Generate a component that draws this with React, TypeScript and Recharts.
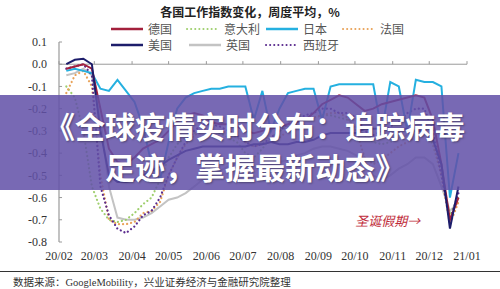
import React from 'react';
import { LineChart, Line, XAxis, YAxis, ReferenceLine, ReferenceDot } from 'recharts';

// Days since 2020-02-01 (weekly averages)
const days = [6, 13, 20, 27, 34, 41, 48, 55, 62, 69, 76, 83, 90, 97, 104, 111, 118, 125, 132, 139, 146, 153, 160, 167, 174, 181, 188, 195, 202, 209, 216, 223, 230, 237, 244, 251, 258, 265, 272, 279, 286, 293, 300, 307, 314, 321, 328];

const germany = [-0.02, -0.01, 0.0, -0.02, -0.2, -0.38, -0.44, -0.45, -0.42, -0.38, -0.36, -0.34, -0.3, -0.26, -0.23, -0.22, -0.23, -0.26, -0.27, -0.27, -0.28, -0.3, -0.31, -0.3, -0.29, -0.28, -0.27, -0.26, -0.25, -0.22, -0.18, -0.16, -0.14, -0.15, -0.18, -0.21, -0.2, -0.18, -0.17, -0.16, -0.15, -0.14, -0.15, -0.25, -0.45, -0.7, -0.6];
const italy = [-0.1, -0.15, -0.3, -0.55, -0.65, -0.7, -0.71, -0.7, -0.67, -0.63, -0.6, -0.52, -0.42, -0.36, -0.33, -0.31, -0.3, -0.3, -0.31, -0.33, -0.35, -0.4, -0.42, -0.38, -0.33, -0.3, -0.28, -0.27, -0.25, -0.24, -0.23, -0.23, -0.24, -0.25, -0.28, -0.32, -0.35, -0.36, -0.35, -0.33, -0.32, -0.3, -0.3, -0.36, -0.5, -0.68, -0.6];
const japan = [-0.03, -0.02, -0.03, -0.04, -0.11, -0.12, -0.07, -0.12, -0.17, -0.28, -0.45, -0.52, -0.35, -0.2, -0.15, -0.13, -0.12, -0.11, -0.11, -0.1, -0.1, -0.1, -0.25, -0.12, -0.3, -0.2, -0.13, -0.12, -0.11, -0.11, -0.25, -0.1, -0.09, -0.09, -0.09, -0.09, -0.09, -0.3, -0.08, -0.1, -0.3, -0.07, -0.08, -0.08, -0.1, -0.6, -0.4];
const france = [-0.13, -0.05, -0.03, -0.1, -0.5, -0.7, -0.72, -0.72, -0.71, -0.67, -0.66, -0.62, -0.5, -0.42, -0.36, -0.32, -0.3, -0.3, -0.3, -0.31, -0.33, -0.35, -0.37, -0.36, -0.35, -0.33, -0.3, -0.27, -0.25, -0.24, -0.23, -0.22, -0.22, -0.24, -0.3, -0.42, -0.45, -0.43, -0.4, -0.37, -0.35, -0.33, -0.3, -0.35, -0.5, -0.72, -0.62];
const usa = [0.0, 0.02, 0.025, 0.0, -0.3, -0.5, -0.53, -0.53, -0.52, -0.5, -0.48, -0.46, -0.43, -0.41, -0.39, -0.38, -0.37, -0.37, -0.37, -0.37, -0.37, -0.37, -0.36, -0.36, -0.35, -0.36, -0.36, -0.35, -0.35, -0.34, -0.32, -0.31, -0.31, -0.31, -0.31, -0.29, -0.29, -0.29, -0.29, -0.29, -0.29, -0.3, -0.3, -0.34, -0.45, -0.74, -0.55];
const uk = [-0.05, -0.04, -0.02, -0.05, -0.25, -0.55, -0.69, -0.7, -0.7, -0.69, -0.67, -0.64, -0.61, -0.6, -0.58, -0.55, -0.52, -0.5, -0.48, -0.46, -0.45, -0.45, -0.47, -0.46, -0.45, -0.44, -0.43, -0.41, -0.4, -0.38, -0.37, -0.37, -0.38, -0.39, -0.41, -0.44, -0.5, -0.52, -0.5, -0.47, -0.45, -0.42, -0.42, -0.45, -0.55, -0.66, -0.62];
const spain = [-0.02, -0.01, 0.0, -0.05, -0.55, -0.68, -0.74, -0.76, -0.73, -0.68, -0.66, -0.6, -0.5, -0.42, -0.35, -0.3, -0.27, -0.27, -0.28, -0.3, -0.32, -0.35, -0.37, -0.36, -0.33, -0.3, -0.27, -0.25, -0.23, -0.22, -0.2, -0.2, -0.22, -0.22, -0.24, -0.3, -0.32, -0.3, -0.28, -0.26, -0.22, -0.2, -0.2, -0.3, -0.5, -0.7, -0.58];

const monthDays = [0, 29, 60, 90, 121, 151, 182, 213, 243, 274, 304, 335];
const monthLabels = ['20/02', '20/03', '20/04', '20/05', '20/06', '20/07', '20/08', '20/09', '20/10', '20/11', '20/12', '21/01'];
const yTicks = [0.1, 0, -0.1, -0.2, -0.3, -0.4, -0.5, -0.6, -0.7, -0.8];

const series = [
  { key: 'de', name: '德国', values: germany, color: '#a3203c', dotted: false },
  { key: 'it', name: '意大利', values: italy, color: '#9fcf6e', dotted: true },
  { key: 'jp', name: '日本', values: japan, color: '#25b0e0', dotted: false },
  { key: 'fr', name: '法国', values: france, color: '#e9a35a', dotted: true },
  { key: 'us', name: '美国', values: usa, color: '#1d1d6b', dotted: false },
  { key: 'uk', name: '英国', values: uk, color: '#c3c3c3', dotted: false },
  { key: 'es', name: '西班牙', values: spain, color: '#5a2b8e', dotted: true },
];

// draw order (back to front)
const drawOrder = ['uk', 'it', 'fr', 'es', 'jp', 'de', 'us'];

const data = days.map((d, i) => {
  const row: Record<string, number> = { day: d };
  series.forEach((s) => {
    row[s.key] = s.values[i];
  });
  return row;
});

const legendPos = [
  { left: 110, top: 22 },
  { left: 186, top: 22 },
  { left: 265, top: 22 },
  { left: 342, top: 22 },
  { left: 110, top: 38 },
  { left: 188, top: 38 },
  { left: 265, top: 38 },
];

const serif = "'Liberation Serif', 'Times New Roman', serif";
const cjk = "'Noto Sans CJK SC', sans-serif";

export default function App() {
  return (
    <div style={{ position: 'absolute', left: 0, top: 0, width: 500, height: 289, background: '#fff', overflow: 'hidden' }}>
      <div style={{ position: 'absolute', left: 0, top: 5, width: 500, height: 13, lineHeight: '13px', textAlign: 'center', fontFamily: cjk, fontWeight: 700, fontSize: 12, color: '#222' }}>
        各国工作指数变化，周度平均，%
      </div>
      {series.map((s, i) => (
        <div key={s.key} style={{ position: 'absolute', left: legendPos[i].left, top: legendPos[i].top, height: 14, lineHeight: '14px', display: 'flex', alignItems: 'center', fontFamily: cjk, fontSize: 12, color: '#555' }}>
          <svg width={34} height={14} style={{ marginRight: 4 }}>
            <line x1={1} y1={7} x2={33} y2={7} stroke={s.color} strokeWidth={s.dotted ? 2 : 2.5}
              strokeDasharray={s.dotted ? '0.1 4' : undefined} strokeLinecap={s.dotted ? 'round' : 'butt'} />
          </svg>
          <span>{s.name}</span>
        </div>
      ))}
      <div style={{ position: 'absolute', left: 0, top: 0 }}>
        <LineChart width={500} height={289} data={data} margin={{ top: 42, right: 33, bottom: 17, left: 0 }}>
          <XAxis dataKey="day" type="number" domain={[0, 335]} ticks={monthDays} allowDataOverflow
            axisLine={false} tickLine={false} tickSize={4} tickMargin={5} height={30} interval={0}
            tickFormatter={(v: number) => monthLabels[monthDays.indexOf(v)]}
            tick={{ fontFamily: serif, fontSize: 12, fill: '#333' }} />
          <YAxis type="number" domain={[-0.8, 0.1]} ticks={yTicks} width={59} allowDataOverflow
            axisLine={{ stroke: '#9a9a9a', strokeWidth: 1.2 }} tickLine={false} tickSize={8} tickMargin={4} interval={0}
            tickFormatter={(v: number) => v.toFixed(1)}
            tick={{ fontFamily: serif, fontSize: 12, fill: '#333' }} />
          <ReferenceLine y={0} stroke="#9a9a9a" strokeWidth={1} />
          {monthDays.map((d) => (
            <ReferenceLine key={'xt' + d} segment={[{ x: d, y: 0 }, { x: d, y: 0.014 }]} stroke="#9a9a9a" strokeWidth={1} />
          ))}
          {yTicks.map((v) => (
            <ReferenceLine key={'yt' + v} segment={[{ x: 0, y: v }, { x: 2.5, y: v }]} stroke="#9a9a9a" strokeWidth={1} />
          ))}
          {drawOrder.map((k) => {
            const s = series.find((x) => x.key === k)!;
            return (
              <Line key={k} dataKey={k} type="linear" stroke={s.color} strokeWidth={s.dotted ? 2.2 : 2}
                strokeDasharray={s.dotted ? '0.1 4' : undefined} strokeLinecap={s.dotted ? 'round' : 'butt'}
                dot={false} isAnimationActive={false} />
            );
          })}
          <ReferenceDot x={270} y={-0.705} r={0} fill="none" stroke="none"
            label={{ value: '圣诞假期→', position: 'center', fill: '#c02c3a', fontSize: 13, fontStyle: 'italic', fontFamily: cjk }} />
        </LineChart>
      </div>
      <div style={{ position: 'absolute', left: 0, top: 95, width: 500, height: 95, background: 'rgba(98, 80, 168, 0.86)' }} />
      <div style={{ position: 'absolute', left: 10, top: 105, width: 490, textAlign: 'center', fontFamily: cjk, fontWeight: 700, fontSize: 30, lineHeight: '41px', color: '#fff', textShadow: '1px 1px 2px rgba(0,0,0,0.35)', whiteSpace: 'nowrap' }}>
        <div>《全球疫情实时分布：追踪病毒</div>
        <div>足迹，掌握最新动态》</div>
      </div>
      <div style={{ position: 'absolute', left: 0, top: 271, width: 500, height: 0, borderTop: '1.5px solid #333' }} />
      <div style={{ position: 'absolute', left: 13, top: 274, fontFamily: "'Liberation Serif', 'Noto Sans CJK SC', serif", fontSize: 10.5, color: '#333', whiteSpace: 'nowrap' }}>
        数据来源：GoogleMobility，兴业证券经济与金融研究院整理
      </div>
    </div>
  );
}
